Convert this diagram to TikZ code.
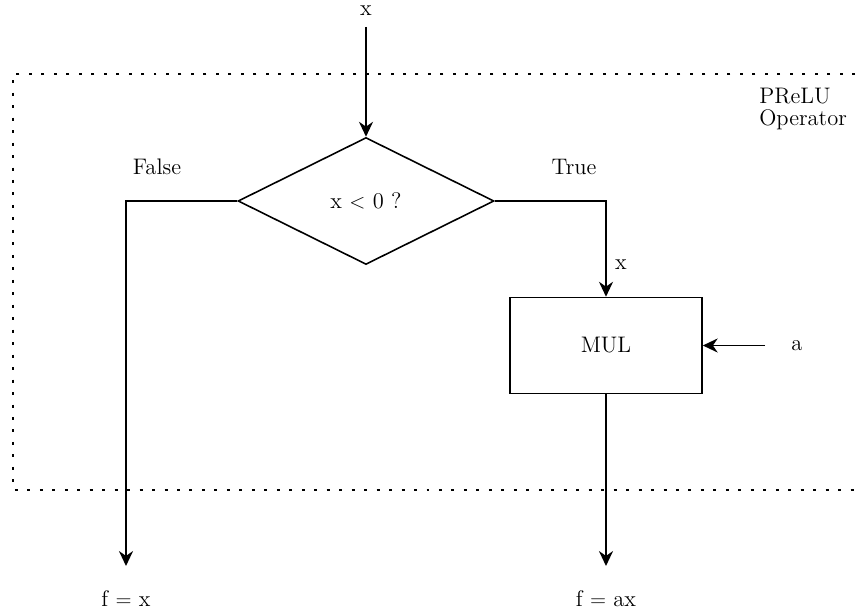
\documentclass[tikz,border=0pt]{standalone}
\usetikzlibrary{arrows.meta,shapes.geometric}
\begin{document}
\begin{tikzpicture}[x=0.02cm,y=-0.02cm,
  conn/.style={line width=0.9pt,-{Stealth[length=8.5pt,width=8pt]}},
  lbl/.style={inner sep=0pt,font=\fontsize{12.8}{12.6}\selectfont},
  frame/.style={line width=1.7pt,dash pattern=on 1.7pt off 5.4pt}]
\useasboundingbox (0,0) rectangle (860,611);
% dotted operator frame
\draw[frame] (880,74) -- (13,74) -- (13,490) -- (880,490);
\node[lbl,align=left,anchor=north west] (op) at (759,88) {PReLU\\Operator};
% nodes
\node[lbl] (xin) at (366,11) {x};
\coordinate (xs) at (366,27);
\node[draw,line width=0.9pt,diamond,inner sep=0pt,
      minimum width=5.12cm,minimum height=2.54cm,aspect=2,font=\fontsize{12.8}{15}\selectfont] (dec) at (366,201) {x $<$ 0 ?};
\node[draw,line width=0.9pt,minimum width=3.84cm,minimum height=1.92cm,inner sep=0pt,font=\fontsize{12.8}{15}\selectfont] (mul) at (606,345.5) {MUL};
\node[lbl] (a) at (797,346) {a};
\coordinate (as) at (765,345.5);
\coordinate (fl) at (126,201);
\coordinate (tr) at (606,201);
\coordinate (fe) at (126,566);
\coordinate (me) at (606,566);
\node[lbl] (fx) at (126,599) {f $=$ x};
\node[lbl] (fax) at (606,599) {f $=$ ax};
\node[lbl] (false) at (157,167) {False};
\node[lbl] (true) at (574,167) {True};
\node[lbl] (xl) at (621,265) {x};
% connectors
\draw[conn] (xs) -- (dec.north);
\draw[conn] (dec.west) -- (fl) -- (fe);
\draw[conn] (dec.east) -- (tr) -- (mul.north);
\draw[conn] (as) -- (mul.east);
\draw[conn] (mul.south) -- (me);
\end{tikzpicture}
\end{document}
